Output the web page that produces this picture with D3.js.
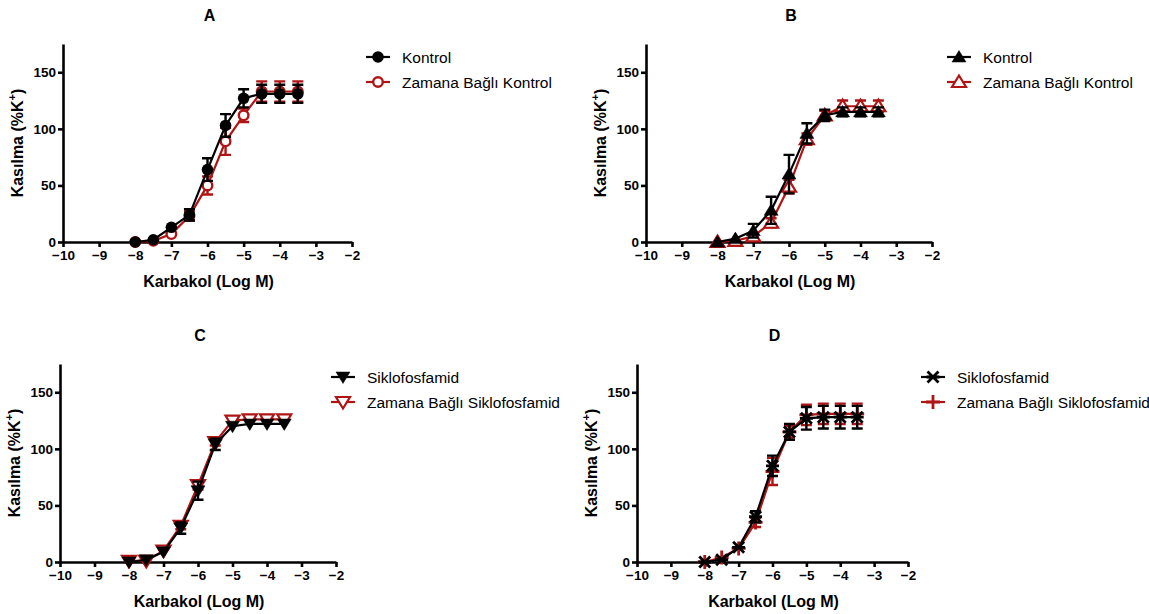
<!DOCTYPE html>
<html>
<head>
<meta charset="utf-8">
<script src="https://cdn.jsdelivr.net/npm/d3@7"></script>
<style>
  body { margin: 0; background: #fff; }
  svg { font-family: Arial, "Liberation Sans", sans-serif; }
  .axis path, .axis line { stroke: #000; stroke-width: 2.6; }
  .axis text { font-size: 13.5px; font-weight: bold; fill: #000; }
</style>
</head>
<body>
<div id="chart"></div>
<script>
// concentrations (log M)
const logConc = [-8, -7.5, -7, -6.5, -6, -5.5, -5, -4.5, -4, -3.5];
const xTicks = [-10, -9, -8, -7, -6, -5, -4, -3, -2];
const yTicks = [0, 50, 100, 150];

// Panel A
const kontrolA = [0, 2, 13, 24, 64, 103, 127, 131, 131, 131];
const kontrolAErr = [1, 1, 2, 5, 10, 10, 8, 8, 8, 8];
const zamanaKontrolA = [0, 1, 7, 23, 50, 89, 112, 133, 133, 133];
const zamanaKontrolAErr = [1, 1, 2, 4, 8, 12, 6, 9, 9, 9];

// Panel B
const kontrolB = [0, 3, 10, 28, 60, 96, 112, 115, 115, 115];
const kontrolBErr = [1, 2, 6, 12, 17, 9, 5, 4, 4, 4];
const zamanaKontrolB = [0, 1, 5, 17, 49, 91, 112, 120, 120, 120];
const zamanaKontrolBErr = [1, 1, 2, 4, 6, 5, 4, 5, 5, 5];

// Panel C
const siklofosfamidC = [0, 2, 9, 30, 63, 104, 120, 122, 122, 122];
const siklofosfamidCErr = [1, 1, 2, 5, 8, 5, 2, 2, 2, 2];
const zamanaSiklofosfamidC = [1, 1, 10, 32, 68, 106, 125, 126, 126, 126];
const zamanaSiklofosfamidCErr = [1, 1, 2, 3, 4, 3, 2, 2, 2, 2];

// Panel D
const siklofosfamidD = [0, 2, 13, 40, 85, 115, 127, 128, 128, 128];
const siklofosfamidDErr = [1, 1, 2, 5, 9, 7, 10, 10, 10, 10];
const zamanaSiklofosfamidD = [0, 4, 12, 35, 80, 115, 130, 131, 131, 131];
const zamanaSiklofosfamidDErr = [1, 1, 2, 4, 12, 5, 9, 9, 9, 9];

const black = '#000';
const red = '#b01515';

const panels = [
  { title: 'A', left: 63, right: 352, top: 44, bottom: 242, legendX: 378, legendY: 57,
    series: [
      { name: 'Kontrol', values: kontrolA, err: kontrolAErr, color: black, marker: 'circle', fill: true },
      { name: 'Zamana Bağlı Kontrol', values: zamanaKontrolA, err: zamanaKontrolAErr, color: red, marker: 'circle', fill: false }
    ] },
  { title: 'B', left: 646, right: 932, top: 44, bottom: 242, legendX: 959, legendY: 57,
    series: [
      { name: 'Kontrol', values: kontrolB, err: kontrolBErr, color: black, marker: 'up', fill: true },
      { name: 'Zamana Bağlı Kontrol', values: zamanaKontrolB, err: zamanaKontrolBErr, color: red, marker: 'up', fill: false }
    ] },
  { title: 'C', left: 60, right: 336, top: 364, bottom: 562, legendX: 343, legendY: 377,
    series: [
      { name: 'Siklofosfamid', values: siklofosfamidC, err: siklofosfamidCErr, color: black, marker: 'down', fill: true },
      { name: 'Zamana Bağlı Siklofosfamid', values: zamanaSiklofosfamidC, err: zamanaSiklofosfamidCErr, color: red, marker: 'down', fill: false }
    ] },
  { title: 'D', left: 637, right: 908, top: 364, bottom: 562, legendX: 933, legendY: 377,
    series: [
      { name: 'Siklofosfamid', values: siklofosfamidD, err: siklofosfamidDErr, color: black, marker: 'star', fill: true },
      { name: 'Zamana Bağlı Siklofosfamid', values: zamanaSiklofosfamidD, err: zamanaSiklofosfamidDErr, color: red, marker: 'plus', fill: true }
    ] }
];

const svg = d3.select('#chart').append('svg')
  .attr('width', 1149).attr('height', 614);

function drawMarker(g, type, color, fill) {
  const s = 5.5;
  if (type === 'circle') {
    g.append('circle').attr('r', fill ? 5.8 : 4.8)
      .attr('fill', fill ? color : '#fff')
      .attr('stroke', color).attr('stroke-width', fill ? 0 : 2.4);
  } else if (type === 'up' || type === 'down') {
    const dir = type === 'up' ? 1 : -1;
    const pts = [[0, -6.5 * dir], [7, 5 * dir], [-7, 5 * dir]];
    g.append('path').attr('d', d3.line()(pts) + 'Z')
      .attr('fill', fill ? color : '#fff')
      .attr('stroke', color).attr('stroke-width', fill ? 0.5 : 2.2)
      .attr('stroke-linejoin', 'miter');
  } else if (type === 'star') {
    g.append('path')
      .attr('d', `M${-s},${-s}L${s},${s}M${-s},${s}L${s},${-s}M${-s - 1},0L${s + 1},0`)
      .attr('stroke', color).attr('stroke-width', 2.8);
  } else if (type === 'plus') {
    g.append('path')
      .attr('d', `M${-s - 1.5},0L${s + 1.5},0M0,${-s - 1.5}L0,${s + 1.5}`)
      .attr('stroke', color).attr('stroke-width', 2.8);
  }
}

panels.forEach((p) => {
  const x = d3.scaleLinear().domain([-10, -2]).range([p.left, p.right]);
  const y = d3.scaleLinear().domain([0, 175]).range([p.bottom, p.top]);
  const g = svg.append('g');

  // title
  g.append('text')
    .attr('x', (p.left + p.right) / 2 + 2)
    .attr('y', p.top - 23)
    .attr('text-anchor', 'middle')
    .style('font-size', '16px').style('font-weight', 'bold')
    .text(p.title);

  // axes
  g.append('g').attr('class', 'axis')
    .attr('transform', `translate(0,${p.bottom})`)
    .call(d3.axisBottom(x).tickValues(xTicks).tickSize(5).tickSizeOuter(0).tickPadding(3).tickFormat(d3.format('d')));
  g.append('g').attr('class', 'axis')
    .attr('transform', `translate(${p.left},0)`)
    .call(d3.axisLeft(y).tickValues(yTicks).tickSize(5).tickSizeOuter(0).tickPadding(2));

  // axis labels
  g.append('text')
    .attr('x', (p.left + p.right) / 2 + 1)
    .attr('y', p.bottom + 45)
    .attr('text-anchor', 'middle')
    .style('font-size', '16px').style('font-weight', 'bold')
    .text('Karbakol (Log M)');
  const yl = g.append('text')
    .attr('transform', `translate(${p.left - 40},${(p.top + p.bottom) / 2}) rotate(-90)`)
    .attr('text-anchor', 'middle')
    .style('font-size', '16px').style('font-weight', 'bold');
  yl.append('tspan').text('Kasılma (%K');
  yl.append('tspan').attr('dy', '-7').style('font-size', '11px').text('+');
  yl.append('tspan').attr('dy', '7').text(')');

  // series: red underneath, black on top
  const order = p.series.slice().reverse();
  order.forEach((s) => {
    const pts = logConc.map((c, i) => ({ c, v: s.values[i], e: s.err[i] }));
    const sg = g.append('g');
    sg.append('path').datum(pts)
      .attr('fill', 'none').attr('stroke', s.color).attr('stroke-width', 2.2)
      .attr('d', d3.line().x((d) => x(d.c)).y((d) => y(d.v)));
    // error bars
    pts.filter((d) => d.e >= 3).forEach((d) => {
      const cx = x(d.c);
      sg.append('path')
        .attr('d', `M${cx},${y(d.v - d.e)}L${cx},${y(d.v + d.e)}M${cx - 5.5},${y(d.v + d.e)}L${cx + 5.5},${y(d.v + d.e)}M${cx - 5.5},${y(d.v - d.e)}L${cx + 5.5},${y(d.v - d.e)}`)
        .attr('stroke', s.color).attr('stroke-width', 2.4).attr('fill', 'none');
    });
    pts.forEach((d) => {
      const mg = sg.append('g').attr('transform', `translate(${x(d.c)},${y(d.v)})`);
      drawMarker(mg, s.marker, s.color, s.fill);
    });
  });

  // legend
  p.series.forEach((s, i) => {
    const ly = p.legendY + i * 25;
    const lg = g.append('g').attr('transform', `translate(${p.legendX},${ly})`);
    lg.append('line').attr('x1', -12).attr('x2', 12)
      .attr('stroke', s.color).attr('stroke-width', 2.2);
    drawMarker(lg, s.marker, s.color, s.fill);
    g.append('text')
      .attr('x', p.legendX + 24).attr('y', ly + 5.5)
      .style('font-size', '15.5px')
      .text(s.name);
  });
});
</script>
</body>
</html>
